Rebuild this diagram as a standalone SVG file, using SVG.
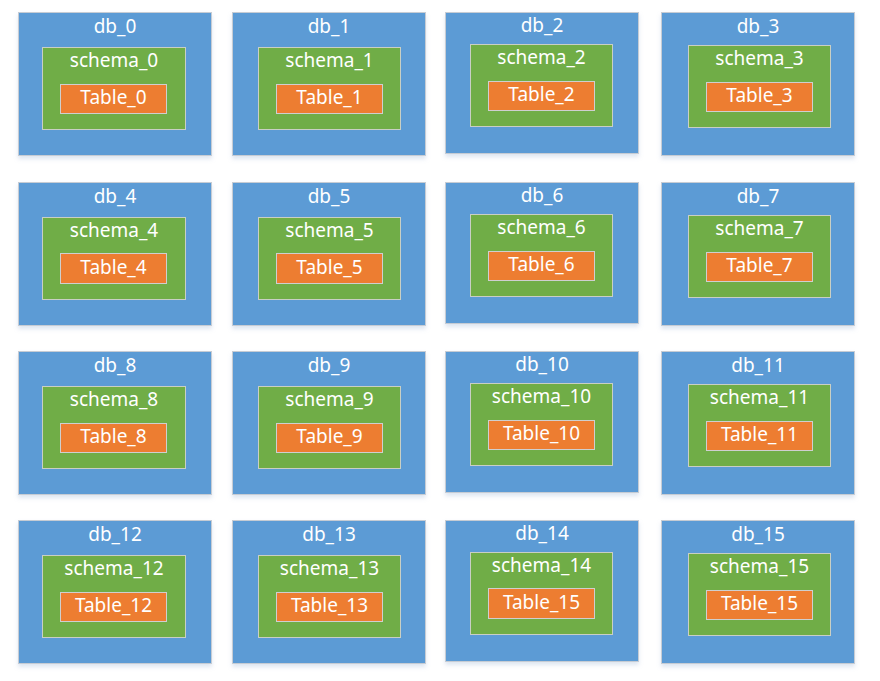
<svg xmlns="http://www.w3.org/2000/svg" width="880" height="681" viewBox="0 0 880 681">
<defs>
<filter id="sh" x="-10%" y="-10%" width="120%" height="125%">
<feGaussianBlur in="SourceAlpha" stdDeviation="2"/>
<feOffset dx="0" dy="3" result="b"/>
<feFlood flood-color="#9fb6d4" flood-opacity="0.35"/>
<feComposite in2="b" operator="in"/>
<feMerge><feMergeNode/><feMergeNode in="SourceGraphic"/></feMerge>
</filter>
</defs>
<style>
.db{fill:#5B9BD5;stroke:#C6CCD4;stroke-width:1;filter:url(#sh)}
.sc{fill:#70AD47;stroke:#C9CFC4;stroke-width:1}
.tb{fill:#ED7D31;stroke:#CFCFCF;stroke-width:1}
text{font-family:"Noto Sans","Open Sans","Liberation Sans",sans-serif;font-size:19px;fill:#FFFFFF;text-anchor:middle}
</style>
<rect width="880" height="681" fill="#FFFFFF"/>
<g id="nodes">
<!-- row 0 -->
<g id="db_0"><rect class="db" x="18.5" y="12.5" width="193" height="143"/><text x="115" y="32.5">db_0</text>
<g id="schema_0"><rect class="sc" x="42.5" y="47.5" width="143" height="82"/><text x="114" y="67">schema_0</text>
<g id="table_0"><rect class="tb" x="60.5" y="84.5" width="106" height="29"/><text x="113.5" y="104">Table_0</text></g></g></g>
<g id="db_1"><rect class="db" x="232.5" y="12.5" width="193" height="143"/><text x="329" y="32.5">db_1</text>
<g id="schema_1"><rect class="sc" x="258.5" y="47.5" width="142" height="82"/><text x="329.5" y="67">schema_1</text>
<g id="table_1"><rect class="tb" x="276.5" y="84.5" width="106" height="29"/><text x="329.5" y="104">Table_1</text></g></g></g>
<g id="db_2"><rect class="db" x="445.5" y="12.5" width="193" height="141"/><text x="542" y="32">db_2</text>
<g id="schema_2"><rect class="sc" x="470.5" y="44.5" width="142" height="82"/><text x="541.5" y="64">schema_2</text>
<g id="table_2"><rect class="tb" x="488.5" y="81.5" width="106" height="29"/><text x="541.5" y="101">Table_2</text></g></g></g>
<g id="db_3"><rect class="db" x="661.5" y="12.5" width="193" height="143"/><text x="758" y="32.5">db_3</text>
<g id="schema_3"><rect class="sc" x="688.5" y="45.5" width="142" height="82"/><text x="759.5" y="65">schema_3</text>
<g id="table_3"><rect class="tb" x="706.5" y="82.5" width="106" height="29"/><text x="759.5" y="102">Table_3</text></g></g></g>
<!-- row 1 -->
<g id="db_4"><rect class="db" x="18.5" y="182.5" width="193" height="143"/><text x="115" y="202.5">db_4</text>
<g id="schema_4"><rect class="sc" x="42.5" y="217.5" width="143" height="82"/><text x="114" y="237">schema_4</text>
<g id="table_4"><rect class="tb" x="60.5" y="253.5" width="106" height="30"/><text x="113.5" y="274">Table_4</text></g></g></g>
<g id="db_5"><rect class="db" x="232.5" y="182.5" width="193" height="143"/><text x="329" y="202.5">db_5</text>
<g id="schema_5"><rect class="sc" x="258.5" y="217.5" width="142" height="82"/><text x="329.5" y="237">schema_5</text>
<g id="table_5"><rect class="tb" x="276.5" y="253.5" width="106" height="30"/><text x="329.5" y="274">Table_5</text></g></g></g>
<g id="db_6"><rect class="db" x="445.5" y="182.5" width="193" height="141"/><text x="542" y="202">db_6</text>
<g id="schema_6"><rect class="sc" x="470.5" y="214.5" width="142" height="82"/><text x="541.5" y="234">schema_6</text>
<g id="table_6"><rect class="tb" x="488.5" y="251.5" width="106" height="29"/><text x="541.5" y="271">Table_6</text></g></g></g>
<g id="db_7"><rect class="db" x="661.5" y="182.5" width="193" height="143"/><text x="758" y="202.5">db_7</text>
<g id="schema_7"><rect class="sc" x="688.5" y="215.5" width="142" height="82"/><text x="759.5" y="235">schema_7</text>
<g id="table_7"><rect class="tb" x="706.5" y="252.5" width="106" height="29"/><text x="759.5" y="272">Table_7</text></g></g></g>
<!-- row 2 -->
<g id="db_8"><rect class="db" x="18.5" y="351.5" width="193" height="143"/><text x="115" y="371.5">db_8</text>
<g id="schema_8"><rect class="sc" x="42.5" y="386.5" width="143" height="82"/><text x="114" y="406">schema_8</text>
<g id="table_8"><rect class="tb" x="60.5" y="423.5" width="106" height="29"/><text x="113.5" y="443">Table_8</text></g></g></g>
<g id="db_9"><rect class="db" x="232.5" y="351.5" width="193" height="143"/><text x="329" y="371.5">db_9</text>
<g id="schema_9"><rect class="sc" x="258.5" y="386.5" width="142" height="82"/><text x="329.5" y="406">schema_9</text>
<g id="table_9"><rect class="tb" x="276.5" y="423.5" width="106" height="29"/><text x="329.5" y="443">Table_9</text></g></g></g>
<g id="db_10"><rect class="db" x="445.5" y="351.5" width="193" height="141"/><text x="542" y="371">db_10</text>
<g id="schema_10"><rect class="sc" x="470.5" y="383.5" width="142" height="82"/><text x="541.5" y="403">schema_10</text>
<g id="table_10"><rect class="tb" x="488.5" y="420.5" width="106" height="29"/><text x="541.5" y="440">Table_10</text></g></g></g>
<g id="db_11"><rect class="db" x="661.5" y="351.5" width="193" height="143"/><text x="758" y="371.5">db_11</text>
<g id="schema_11"><rect class="sc" x="688.5" y="384.5" width="142" height="82"/><text x="759.5" y="404">schema_11</text>
<g id="table_11"><rect class="tb" x="706.5" y="421.5" width="106" height="29"/><text x="759.5" y="441">Table_11</text></g></g></g>
<!-- row 3 -->
<g id="db_12"><rect class="db" x="18.5" y="520.5" width="193" height="143"/><text x="115" y="540.5">db_12</text>
<g id="schema_12"><rect class="sc" x="42.5" y="555.5" width="143" height="82"/><text x="114" y="575">schema_12</text>
<g id="table_12"><rect class="tb" x="60.5" y="592.5" width="106" height="29"/><text x="113.5" y="612">Table_12</text></g></g></g>
<g id="db_13"><rect class="db" x="232.5" y="520.5" width="193" height="143"/><text x="329" y="540.5">db_13</text>
<g id="schema_13"><rect class="sc" x="258.5" y="555.5" width="142" height="82"/><text x="329.5" y="575">schema_13</text>
<g id="table_13"><rect class="tb" x="276.5" y="592.5" width="106" height="29"/><text x="329.5" y="612">Table_13</text></g></g></g>
<g id="db_14"><rect class="db" x="445.5" y="520.5" width="193" height="141"/><text x="542" y="540">db_14</text>
<g id="schema_14"><rect class="sc" x="470.5" y="552.5" width="142" height="82"/><text x="541.5" y="572">schema_14</text>
<g id="table_14"><rect class="tb" x="488.5" y="588.5" width="106" height="30"/><text x="541.5" y="609">Table_15</text></g></g></g>
<g id="db_15"><rect class="db" x="661.5" y="520.5" width="193" height="143"/><text x="758" y="540.5">db_15</text>
<g id="schema_15"><rect class="sc" x="688.5" y="553.5" width="142" height="82"/><text x="759.5" y="573">schema_15</text>
<g id="table_15"><rect class="tb" x="706.5" y="590.5" width="106" height="29"/><text x="759.5" y="610">Table_15</text></g></g></g>
</g>
<g id="connectors"/>
</svg>
